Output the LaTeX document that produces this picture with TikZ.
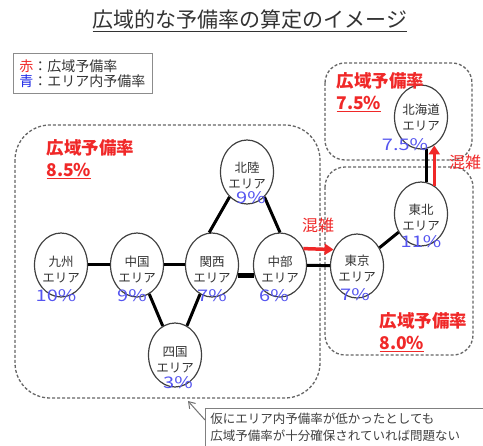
\documentclass[tikz,border=0pt]{standalone}
\usepackage{fontspec}
\setmainfont{Noto Sans CJK JP}
\newfontfamily\pctfont[FakeStretch=1.25]{Noto Sans CJK JP}
\usetikzlibrary{shapes.geometric,arrows.meta}
\definecolor{wred}{RGB}{240,40,40}
\definecolor{pblue}{RGB}{85,85,240}
\definecolor{lblue}{RGB}{30,40,230}
\tikzset{
    region/.style={draw=black!60, line width=1.3pt, dash pattern=on 3pt off 2pt},
    area/.style={ellipse, draw=black!75, line width=1.2pt, fill=white, minimum width=53pt, minimum height=64pt, inner sep=0pt},
    aname/.style={font=\fontsize{12.5}{16}\selectfont, text=black!80, align=center},
    pct/.style={font=\pctfont\fontsize{16}{16}\selectfont, text=pblue},
    link/.style={line width=3pt, black},
    jam/.style={-{Triangle[length=9pt,width=11pt]}, line width=3.5pt, wred},
    jamtext/.style={font=\fontsize{16}{16}\selectfont, text=wred},
    wide/.style={font=\bfseries\fontsize{17.5}{22}\selectfont, text=wred, align=left, anchor=west},
}
\begin{document}
\begin{tikzpicture}[x=1pt, y=-1pt]
    \useasboundingbox (0,0) rectangle (483,446);
    \fill[white] (0,0) rectangle (483,446);

    \draw[region, rounded corners=35pt] (15,125) rectangle (320,398);
    \draw[region, rounded corners=20pt] (325,63) rectangle (472,160);
    \draw[region, rounded corners=20pt] (325,167) rectangle (473,355);

    \node[font=\fontsize{21}{24}\selectfont, text=black!80] (title) at (250,21) {\underline{広域的な予備率の算定のイメージ}};
    \node[draw=black!45, line width=1pt, anchor=north west, text width=127pt, inner sep=6pt, align=left, font=\fontsize{14}{15.5}\selectfont, text=black!80] (legend) at (13,53) {\textcolor{wred}{赤}：広域予備率\\\textcolor{lblue}{青}：エリア内予備率};

    \node[area] (kyushu) at (61,265) {};
    \node[area] (chugoku) at (137,265) {};
    \node[area] (kansai) at (212,265) {};
    \node[area] (chubu) at (280,265) {};
    \node[area] (shikoku) at (175,355) {};
    \node[area] (hokuriku) at (247,172) {};
    \node[area] (tokyo) at (357,266) {};
    \node[area] (tohoku) at (421,214) {};
    \node[area] (hokkaido) at (421,117) {};

    \draw[link] (kyushu) -- (chugoku);
    \draw[link] (chugoku) -- (kansai);
    \draw[link, line width=4.5pt] (kansai.-22) -- (chubu.202);
    \draw[link] (chubu) -- (tokyo);
    \draw[link] (chugoku) -- (shikoku);
    \draw[link] (kansai) -- (shikoku);
    \draw[link] (kansai.95) -- (hokuriku.235);
    \draw[link] (hokuriku.-55) -- (chubu.north);
    \draw[link] (tokyo) -- (tohoku);
    \draw[link] (tohoku.80) -- (hokkaido.280);

    \node[aname] (kyushu-n) at ([yshift=-5pt]kyushu.center) {九州\\エリア};
    \node[aname] (chugoku-n) at ([yshift=-5pt]chugoku.center) {中国\\エリア};
    \node[aname] (kansai-n) at ([yshift=-5pt]kansai.center) {関西\\エリア};
    \node[aname] (chubu-n) at ([yshift=-5pt]chubu.center) {中部\\エリア};
    \node[aname] (shikoku-n) at ([yshift=-5pt]shikoku.center) {四国\\エリア};
    \node[aname] (hokuriku-n) at ([yshift=-4pt]hokuriku.center) {北陸\\エリア};
    \node[aname] (tokyo-n) at ([yshift=-3pt]tokyo.center) {東京\\エリア};
    \node[aname] (tohoku-n) at ([yshift=-4pt]tohoku.center) {東北\\エリア};
    \node[aname] (hokkaido-n) at ([yshift=-1pt]hokkaido.center) {北海道\\エリア};

    \node[pct] (kyushu-p) at ([xshift=-5pt, yshift=-31pt]kyushu.center) {10\%};
    \node[pct] (chugoku-p) at ([xshift=-5pt, yshift=-31pt]chugoku.center) {9\%};
    \node[pct] (kansai-p) at ([yshift=-31pt]kansai.center) {7\%};
    \node[pct] (chubu-p) at ([xshift=-6pt, yshift=-31pt]chubu.center) {6\%};
    \node[pct] (shikoku-p) at ([xshift=3pt, yshift=-28pt]shikoku.center) {3\%};
    \node[pct] (hokuriku-p) at ([xshift=4pt, yshift=-26pt]hokuriku.center) {9\%};
    \node[pct] (tokyo-p) at ([xshift=-2pt, yshift=-29pt]tokyo.center) {7\%};
    \node[pct] (tohoku-p) at ([yshift=-28pt]tohoku.center) {11\%};
    \node[pct] (hokkaido-p) at ([xshift=-16pt, yshift=-28pt]hokkaido.center) {7.5\%};

    \draw[jam] (chubu.35) -- (tokyo.145);
    \draw[jam] (tohoku.65) -- (hokkaido.295);
    \node[jamtext] (jam-west) at (318,225) {混雑};
    \node[jamtext] (jam-north) at (465,162) {混雑};

    \node[wide] (wide-west) at (43,159) {広域予備率\\\underline{8.5\%}};
    \node[wide] (wide-north) at (333,92) {広域予備率\\\underline{7.5\%}};
    \node[wide] (wide-east) at (376,332) {広域予備率\\\underline{8.0\%}};

    \node[draw=black!50, line width=0.8pt, anchor=north west, text width=285pt, inner sep=5pt, align=left, font=\fontsize{12.5}{17}\selectfont, text=black!75] (note) at (205,408) {仮にエリア内予備率が低かったとしても\\広域予備率が十分確保されていれば問題ない};
    \coordinate (note-tip) at (188,401);
    \draw[black!55, line width=1pt, -{Straight Barb[length=6pt, width=8pt]}] ([yshift=-12pt]note.north west) -- (note-tip);
\end{tikzpicture}
\end{document}
